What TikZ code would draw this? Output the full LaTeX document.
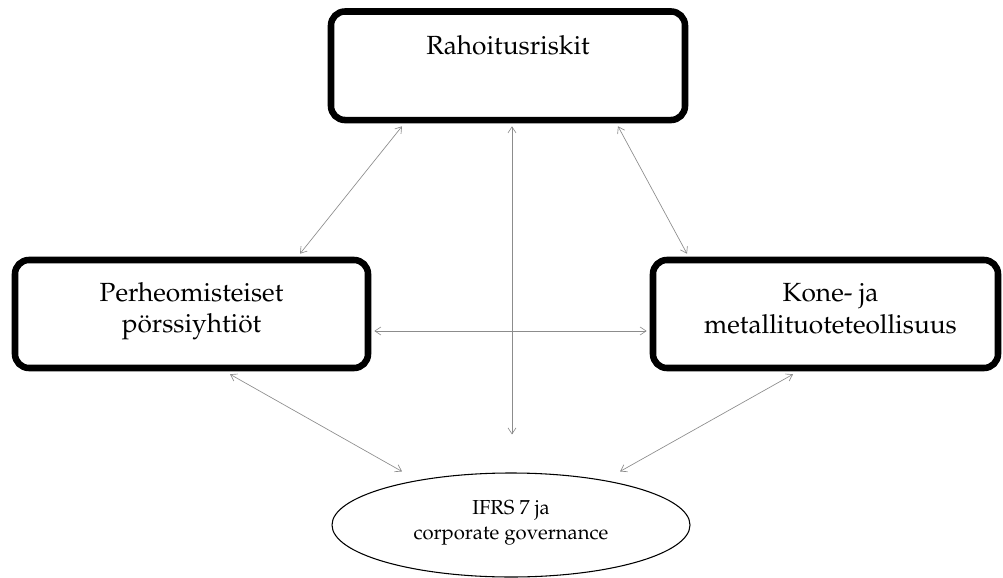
\documentclass[tikz,border=0pt]{standalone}
\usepackage[T1]{fontenc}
\renewcommand{\rmdefault}{ppl}
\usetikzlibrary{arrows.meta,calc,shapes.geometric}

\definecolor{linkgray}{gray}{0.55}

\tikzset{
  topicbox/.style={draw=black, line width=4.9pt, rounded corners=10.5pt,
    inner sep=0pt, fill=white},
  boxtext/.style={anchor=base, inner sep=0pt, align=center,
    font=\fontsize{19.7}{24}\selectfont},
  themeoval/.style={draw=black, ellipse, line width=0.8pt, inner sep=0pt,
    minimum width=268.5pt, minimum height=78pt},
  ovaltext/.style={anchor=base, inner sep=0pt,
    font=\fontsize{15.2}{19}\selectfont},
  link/.style={draw=linkgray, line width=0.5pt,
    {Straight Barb[length=4.5pt,width=6pt]}-{Straight Barb[length=4.5pt,width=6pt]}}
}

\begin{document}
\begin{tikzpicture}[x=0.75pt, y=-0.75pt]
  \useasboundingbox (0,0) rectangle (1003,578);

  % three topic boxes
  \node (risk) [topicbox, minimum width=265.5pt, minimum height=81.4pt] at (508,65.75) {};
  \node (family) [topicbox, minimum width=264.75pt, minimum height=81pt] at (191.5,314) {};
  \node (metal) [topicbox, minimum width=258.75pt, minimum height=81pt] at (825.5,314) {};

  \node (risktext) [boxtext] at ($(risk.north)+(0,46.5)$) {Rahoitusriskit};
  \node (familytext1) [boxtext] at ($(family.north)+(0,45)$) {Perheomisteiset};
  \node (familytext2) [boxtext] at ($(family.north)+(0,76)$) {pörssiyhtiöt};
  \node (metaltext1) [boxtext] at ($(metal.north)+(5,45)$) {Kone- ja};
  \node (metaltext2) [boxtext] at ($(metal.north)+(5,77)$) {metallituoteteollisuus};

  % theme oval
  \node (ifrs) [themeoval] at (511,525) {};
  \node (ifrstext1) [ovaltext] at ($(ifrs.center)+(0,-11)$) {IFRS 7 ja};
  \node (ifrstext2) [ovaltext] at ($(ifrs.center)+(0,14)$) {corporate governance};

  % two-way links
  \draw[link] ($(risk.south)+(-106,3)$) -- ($(family.north)+(108.5,-3)$);
  \draw[link] ($(risk.south)+(4,3)$) -- ($(ifrs.north)+(1,-38)$);
  \draw[link] ($(risk.south)+(110,3)$) -- ($(metal.north)+(-138.5,-3)$);
  \draw[link] ($(family.east)+(3,17)$) -- ($(metal.west)+(-3,17)$);
  \draw[link] ($(family.south)+(38.5,3)$) -- ($(ifrs.north)+(-109,-1)$);
  \draw[link] ($(metal.south)+(-32.5,3)$) -- ($(ifrs.north)+(109,-1)$);
\end{tikzpicture}
\end{document}
